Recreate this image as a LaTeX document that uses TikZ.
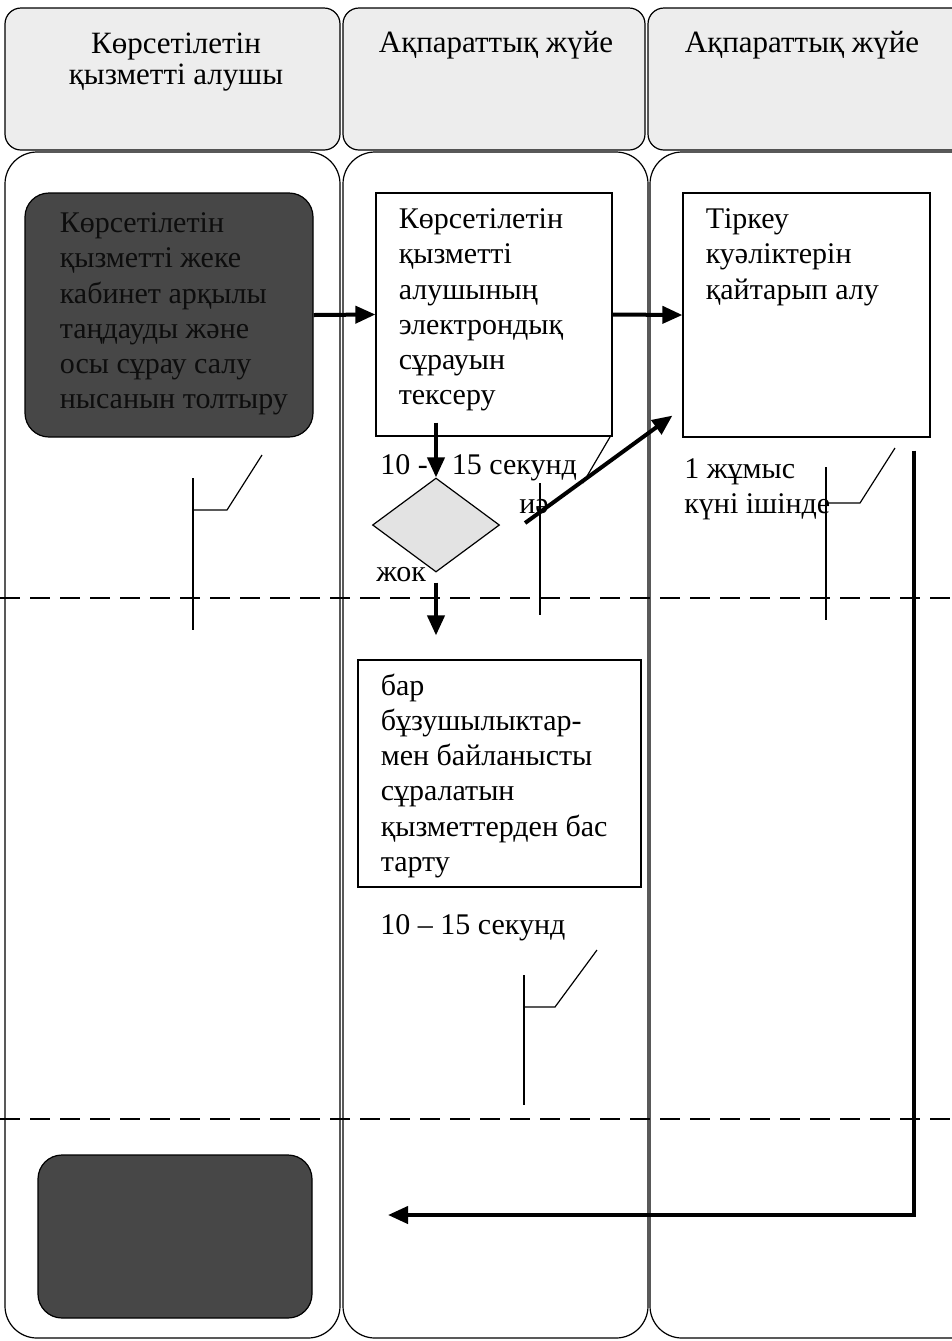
\documentclass[tikz,border=0pt]{standalone}
\usepackage{fontspec}
\setmainfont{Liberation Serif}
\usetikzlibrary{shapes.geometric,arrows.meta,positioning}
\tikzset{
  lane/.style={draw, line width=0.6pt, rounded corners=16pt},
  headbox/.style={draw, line width=0.6pt, rounded corners=8pt, fill=gray!14},
  darkbox/.style={draw, line width=0.6pt, rounded corners=12pt, fill=black!72},
  procbox/.style={draw, line width=0.6pt, inner sep=0pt},
  boxtext/.style={anchor=north west, inner sep=0pt, align=left, font=\fontsize{15pt}{17.6pt}\selectfont},
  headtext/.style={anchor=north, inner sep=0pt, align=center, font=\fontsize{15.5pt}{15.5pt}\selectfont},
  flow/.style={line width=2pt, -{Triangle[length=10pt,width=8.5pt]}},
  note/.style={line width=0.6pt},
  sep/.style={line width=1pt, dash pattern=on 10pt off 5pt},
}
\begin{document}
\begin{tikzpicture}[x=0.5pt,y=-0.5pt]
\useasboundingbox (0,0) rectangle (952,1341);
\clip (0,0) rectangle (952,1341);
% headers
\draw[headbox] (5,8) rectangle (340,150);
\draw[headbox] (343,8) rectangle (645,150);
\draw[headbox] (648,8) rectangle (990,150);
\node[headtext] (h1) at (176,33) {Көрсетілетін\\қызметті алушы};
\node[headtext] (h2) at (496,31) {Ақпараттық жүйе};
\node[headtext] (h3) at (802,31) {Ақпараттық жүйе};
% lanes
\draw[lane] (5,152) rectangle (340,1338);
\draw[lane] (343,152) rectangle (648,1338);
\draw[lane] (650,152) rectangle (990,1338);
\draw[sep] (0,598) -- (952,598);
\draw[sep] (0,1119) -- (952,1119);
% boxes
\node[darkbox, minimum width=144pt, minimum height=122pt] (start) at (169,315) {};
\begin{scope}
\clip[rounded corners=12pt] (start.south west) rectangle (start.north east);
\node[boxtext, text=black!95] (starttext) at ([xshift=17.5pt,yshift=-10pt]start.north west)
  {Көрсетілетін\\қызметті жеке\\кабинет арқылы\\таңдауды және\\осы сұрау салу\\нысанын толтыру};
\end{scope}
\node[procbox, minimum width=118pt, minimum height=121.5pt] (check) at (494,314.5) {};
\node[boxtext] (checktext) at ([xshift=11.5pt,yshift=-8pt]check.north west)
  {Көрсетілетін\\қызметті\\алушының\\электрондық\\сұрауын\\тексеру};
\node[procbox, minimum width=123.5pt, minimum height=122pt] (revoke) at (806.5,315) {};
\node[boxtext] (revoketext) at ([xshift=11.5pt,yshift=-8pt]revoke.north west)
  {Тіркеу\\куәліктерін\\қайтарып алу};
\node[diamond, draw, line width=0.6pt, fill=gray!22, minimum width=63.5pt, minimum height=47pt, inner sep=0pt] (dec) at (436,525) {};
\node[procbox, minimum width=141.5pt, minimum height=113.5pt] (refuse) at (499.5,773.5) {};
\node[boxtext] (refusetext) at ([xshift=11.5pt,yshift=-7pt]refuse.north west)
  {бар\\бұзушылыктар-\\мен байланысты\\сұралатын\\қызметтерден бас\\тарту};
\node[darkbox, minimum width=137pt, minimum height=81.5pt] (finish) at (175,1236.5) {};
% labels
\node[boxtext, anchor=west] (time1) at (380,468) {10 -\hspace{12pt}15 секунд};
\node[boxtext, anchor=center] (yes) at (534,507) {иә};
\node[boxtext, anchor=west] (no) at (376,575) {жок};
\node[boxtext] (time2) at (684,458) {1 жұмыс\\күні ішінде};
\node[boxtext, anchor=west] (time3) at (380,928) {10 – 15 секунд};
% notes
\draw[note] (193,478) -- (193,630);
\draw[note] (193,510) -- (227,510) -- (262,455);
\draw[note] (540,483) -- (540,615);
\draw[note] (610,437) -- (583,483);
\draw[note] (826,467) -- (826,620);
\draw[note] (826,503) -- (860,503) -- (895,448);
\draw[note] (524,975) -- (524,1105);
\draw[note] (524,1007) -- (555,1007) -- (597,950);
% flows
\coordinate (back) at (388,1215);
\draw[flow] (start.east) -- (check.west);
\draw[flow] (check.east) -- (revoke.west);
\draw[flow, shorten <=-7pt] (dec.north |- check.south) -- (dec.north);
\draw[flow] ([xshift=12.5pt,yshift=1pt]dec.east) -- ([xshift=-5pt,yshift=11pt]revoke.south west);
\draw[flow, shorten <=5pt, shorten >=12pt] (dec.south) -- (dec.south |- refuse.north);
\draw[flow] ([xshift=-8.5pt,yshift=-6.5pt]revoke.south east) |- (back);
\end{tikzpicture}
\end{document}
